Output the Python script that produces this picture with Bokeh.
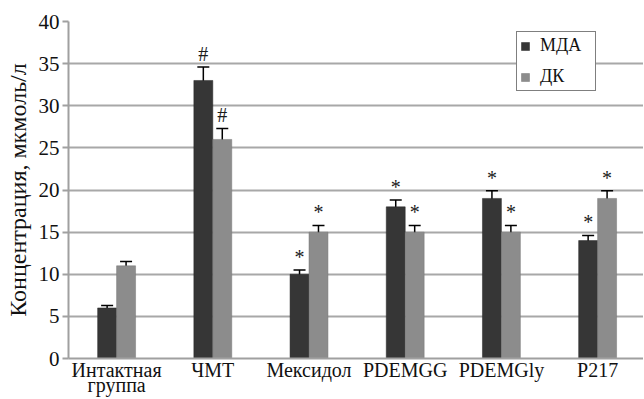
from bokeh.plotting import figure
from bokeh.models import ColumnDataSource, Range1d, FixedTicker, Whisker, TeeHead, Legend, LegendItem
from bokeh.core.properties import value
from bokeh.embed import file_html
from bokeh.resources import INLINE

categories = ["Интактная\nгруппа", "ЧМТ", "Мексидол", "PDEMGG", "PDEMGly", "P217"]
mda = [6, 33, 10, 18, 19, 14]
mda_err = [0.3, 1.6, 0.5, 0.8, 0.9, 0.6]
dk = [11, 26, 15, 15, 15, 19]
dk_err = [0.5, 1.3, 0.8, 0.8, 0.8, 0.9]
mda_mark = ["", "#", "*", "*", "*", "*"]
dk_mark = ["", "#", "*", "*", "*", "*"]

FONT = "Liberation Serif"
bw = 0.197
xc = [i + 0.5 for i in range(len(categories))]

p = figure(width=643, height=399, output_backend="svg", toolbar_location=None,
           x_range=Range1d(0, 5.977), y_range=Range1d(0, 40),
           min_border_left=68, min_border_right=0, min_border_top=21, min_border_bottom=37)
p.outline_line_color = None
p.background_fill_color = "white"

src_m = ColumnDataSource(dict(x=[c - bw / 2 for c in xc], top=mda,
                              up=[v + e for v, e in zip(mda, mda_err)],
                              lo=[v - e for v, e in zip(mda, mda_err)], mark=mda_mark))
src_d = ColumnDataSource(dict(x=[c + bw / 2 for c in xc], top=dk,
                              up=[v + e for v, e in zip(dk, dk_err)],
                              lo=[v - e for v, e in zip(dk, dk_err)], mark=dk_mark))

r_m = p.vbar(x="x", top="top", bottom=0, width=bw, source=src_m, fill_color="#363636", line_color="#262626", line_width=0.5)
r_d = p.vbar(x="x", top="top", bottom=0, width=bw, source=src_d, fill_color="#8c8c8c", line_color="#777777", line_width=0.5)

for s in (src_m, src_d):
    w = Whisker(base="x", upper="up", lower="lo", source=s, line_color="black", line_width=1.5,
                upper_head=TeeHead(size=12, line_color="black", line_width=1.5),
                lower_head=TeeHead(size=12, line_color="black", line_width=1.5))
    p.add_layout(w)
    p.text(x="x", y="up", text="mark", source=s, text_align="center", text_baseline="bottom",
           y_offset=-2, text_font=value(FONT), text_font_size="20px", text_color="#1a1a1a")

p.xaxis.ticker = FixedTicker(ticks=xc)
p.xaxis.major_label_overrides = {c: l for c, l in zip(xc, categories)}
p.xaxis.major_tick_line_color = None
p.xaxis.major_tick_out = 0
p.xaxis.major_tick_in = 0
p.xaxis.minor_tick_line_color = None
p.xaxis.minor_tick_out = 0
p.xaxis.axis_line_color = "#a0a0a0"
p.xaxis.axis_line_width = 2
p.xaxis.major_label_text_font = FONT
p.xaxis.major_label_text_font_size = "20px"
p.xaxis.major_label_text_color = "#111111"
p.xaxis.major_label_standoff = 0
p.xaxis.major_label_text_line_height = 0.72

p.yaxis.ticker = FixedTicker(ticks=list(range(0, 41, 5)))
p.yaxis.axis_label = "Концентрация, мкмоль/л"
p.yaxis.axis_label_text_font = FONT
p.yaxis.axis_label_text_font_style = "normal"
p.yaxis.axis_label_text_font_size = "24px"
p.yaxis.axis_label_text_color = "#111111"
p.yaxis.axis_label_standoff = 5
p.yaxis.major_label_text_font = FONT
p.yaxis.major_label_text_font_size = "21px"
p.yaxis.major_label_text_color = "#111111"
p.yaxis.axis_line_color = "#a0a0a0"
p.yaxis.axis_line_width = 2
p.yaxis.major_tick_line_color = "#a0a0a0"
p.yaxis.major_tick_line_width = 2
p.yaxis.major_tick_out = 6
p.yaxis.major_tick_in = 0
p.yaxis.minor_tick_line_color = None
p.yaxis.major_label_standoff = 3

p.xgrid.grid_line_color = None
p.ygrid.grid_line_color = "#a8a8a8"
p.ygrid.grid_line_width = 2

legend = Legend(items=[LegendItem(label="МДА", renderers=[r_m]), LegendItem(label="ДК", renderers=[r_d])],
                location=(448, 267), border_line_color="black", border_line_width=1,
                background_fill_color="white", background_fill_alpha=1,
                label_text_font=FONT, label_text_font_size="18px", label_text_color="#111111",
                glyph_width=10, glyph_height=10, label_standoff=10, spacing=10, padding=3,
                label_width=52, margin=0)
p.add_layout(legend)

open("out.html", "w").write(file_html(p, INLINE))
